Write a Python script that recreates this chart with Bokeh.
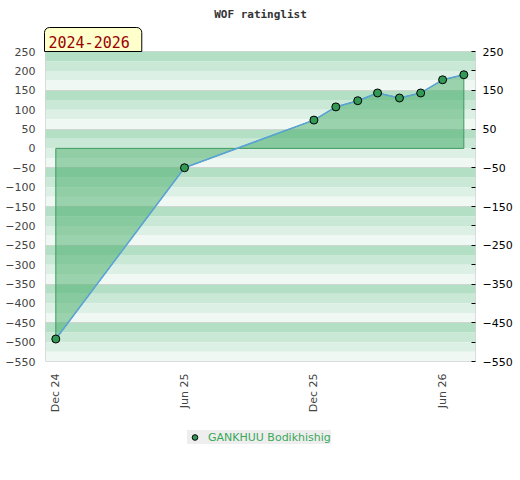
import pandas as pd
from bokeh.plotting import figure
from bokeh.layouts import column
from bokeh.models import (LinearAxis, FixedTicker, DatetimeTickFormatter, Range1d,
                          Title, Legend, LegendItem, ColumnDataSource)
from bokeh.embed import file_html
from bokeh.resources import INLINE
import math

# ---------------- data ----------------
title_text = "WOF ratinglist"
period_text = "2024-2026"
player = "GANKHUU Bodikhishig"
dates = ["2024-12-01", "2025-06-01", "2025-12-01", "2026-01-01", "2026-02-01",
         "2026-03-01", "2026-04-01", "2026-05-01", "2026-06-01", "2026-07-01"]
ratings = [-492, -50, 73, 107, 123, 143, 130, 143, 177, 190]
x_tick_dates = ["2024-12-01", "2025-06-01", "2025-12-01", "2026-06-01"]
left_ticks = list(range(-550, 251, 50))
right_ticks = list(range(-550, 251, 100))
right_minor = list(range(-500, 251, 100))
band_colors = ["#b3dfc4", "#cae8d6", "#ddf0e5", "#eff8f3"]

# ---------------- helpers ----------------
def ms(d):
    return pd.Timestamp(d).value / 1e6

x_start = ms("2024-11-16 10:00")
x_end = ms("2026-07-17 12:00")
y_lo, y_hi = -550, 250

dts = [ms(d) for d in dates]

marker_style = dict(size=8, fill_color="#339957", line_color="black", line_width=1)

p = figure(frame_width=430, frame_height=310, x_axis_type="datetime",
           x_range=Range1d(x_start, x_end), y_range=Range1d(y_lo, y_hi),
           output_backend="svg", toolbar_location=None,
           min_border_left=45, min_border_right=45,
           min_border_top=50, min_border_bottom=60)
p.background_fill_color = "white"
p.border_fill_color = "white"
p.outline_line_color = "#d4d4d4"
p.outline_line_width = 1

# period badge (innermost above element)
badge = Title(text=period_text, align="left", offset=-1, standoff=0,
              text_font="DejaVu Sans Mono", text_font_size="15px",
              text_font_style="normal", text_color="#990000",
              background_fill_color="#ffffcc", border_line_color="black",
              border_line_width=1,
              padding=dict(left=4, right=12, top=8, bottom=4),
              border_radius=dict(top_left=5, top_right=5, bottom_right=0, bottom_left=0))
p.add_layout(badge, "above")

# main title
p.title.text = title_text
p.title.text_font = "DejaVu Sans Mono"
p.title.text_font_size = "11px"
p.title.text_font_style = "bold"
p.title.text_color = "#333333"
p.title.align = "center"
p.title.standoff = 10

# background bands
tops = list(range(y_hi, y_lo, -25))
band_src = ColumnDataSource(dict(
    top=tops,
    bottom=[t - 25 for t in tops],
    left=[x_start] * len(tops),
    right=[x_end] * len(tops),
    color=[band_colors[i % 4] for i in range(len(tops))],
))
p.quad(top="top", bottom="bottom", left="left", right="right", color="color",
       line_color=None, source=band_src, level="image")

# grid
p.xgrid.visible = False
p.ygrid.ticker = FixedTicker(ticks=right_ticks)
p.ygrid.grid_line_color = "#cfd6d2"
p.ygrid.grid_line_width = 1
p.ygrid.level = "underlay"

# area
p.patch(x=[dts[0]] + dts + [dts[-1]], y=[0] + ratings + [0],
        fill_color="#46ab68", fill_alpha=0.5, line_color="#3d9a5c", line_width=1)
p.line(x=dts, y=ratings, line_color="#5aa2d8", line_width=1.5)
p.scatter(x=dts, y=ratings, **marker_style)

# left axis
ya = p.yaxis[0]
ya.ticker = FixedTicker(ticks=left_ticks)
ya.major_tick_line_color = None
ya.minor_tick_line_color = None
ya.major_tick_out = 0
ya.major_tick_in = 0
ya.minor_tick_out = 0
ya.axis_line_color = None
ya.major_label_text_font = "DejaVu Sans"
ya.major_label_text_font_size = "11px"
ya.major_label_text_color = "#444444"
ya.major_label_standoff = 10

# right axis
ra = LinearAxis(ticker=FixedTicker(ticks=right_ticks, minor_ticks=right_minor))
ra.major_tick_in = 4
ra.major_tick_out = 0
ra.minor_tick_in = 4
ra.minor_tick_out = 0
ra.major_tick_line_color = "black"
ra.minor_tick_line_color = "black"
ra.axis_line_color = None
ra.major_label_text_font = "DejaVu Sans"
ra.major_label_text_font_size = "11px"
ra.major_label_text_color = "black"
ra.major_label_standoff = 7
p.add_layout(ra, "right")

# x axis
xa = p.xaxis[0]
xa.ticker = FixedTicker(ticks=[ms(d) for d in x_tick_dates])
fmt = "%b %y"
xa.formatter = DatetimeTickFormatter(microseconds=fmt, milliseconds=fmt, seconds=fmt,
                                     minsec=fmt, minutes=fmt, hourmin=fmt, hours=fmt,
                                     days=fmt, months=fmt, years=fmt)
xa.major_label_orientation = math.pi / 2
xa.major_tick_line_color = None
xa.minor_tick_line_color = None
xa.major_tick_out = 0
xa.major_tick_in = 0
xa.minor_tick_out = 0
xa.axis_line_color = None
xa.axis_label = None
xa.major_label_text_font = "DejaVu Sans"
xa.major_label_text_font_size = "11px"
xa.major_label_text_color = "#444444"
xa.major_label_standoff = 12

# legend strip (separate figure beneath the chart)
lg = figure(width=520, height=60, output_backend="svg", toolbar_location=None,
            x_range=Range1d(0, 1), y_range=Range1d(0, 1),
            x_axis_location=None, y_axis_location=None,
            min_border=0)
lg.grid.visible = False
lg.outline_line_color = None
lg.background_fill_color = "white"
lg.border_fill_color = "white"
# a single off-range sample row so that the legend can draw its marker
lg_pts = lg.scatter(x=[-5], y=[-5], **marker_style)
legend = Legend(items=[LegendItem(label=player, renderers=[lg_pts])],
                location=(142, 37), orientation="horizontal",
                background_fill_color="#eeeeee", background_fill_alpha=1,
                border_line_color=None, padding=4, margin=0,
                glyph_width=15, glyph_height=14, label_standoff=6,
                label_height=14, label_text_font="DejaVu Sans",
                label_text_font_size="11px", label_text_color="#3aa85a")
lg.add_layout(legend)

layout = column(p, lg, spacing=0)
open("out.html", "w").write(file_html(layout, INLINE))
